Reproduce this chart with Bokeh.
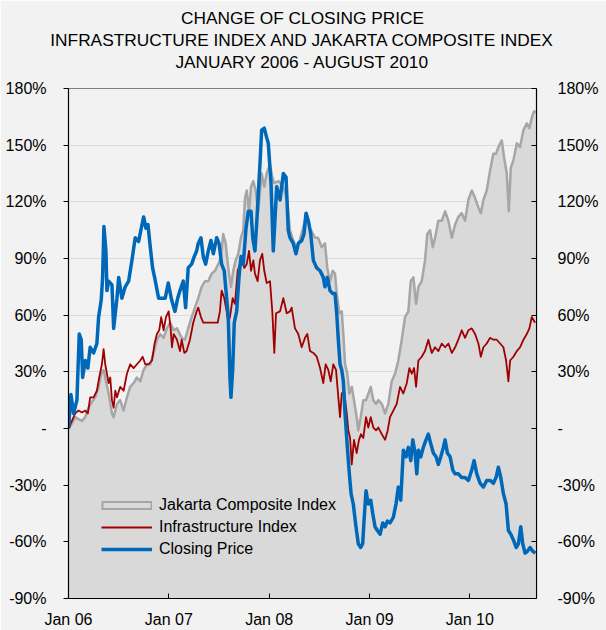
from bokeh.plotting import figure
from bokeh.models import Range1d, LinearAxis, FixedTicker, Legend, LegendItem, Title
from bokeh.embed import file_html
from bokeh.resources import INLINE

# ---------------- data ----------------
title_lines = ["CHANGE OF CLOSING PRICE",
               "INFRASTRUCTURE INDEX AND JAKARTA COMPOSITE INDEX",
               "JANUARY 2006 - AUGUST 2010"]

x_start = 2006.0          # 1 Jan 2006
x_end = 2010.664          # end of Aug 2010
x_ticks = [2006, 2007, 2008, 2009, 2010]
x_tick_labels = ["Jan 06", "Jan 07", "Jan 08", "Jan 09", "Jan 10"]

y_ticks = [-90, -60, -30, 0, 30, 60, 90, 120, 150, 180]
y_tick_labels = ["-90%", "-60%", "-30%", "-", "30%", "60%", "90%", "120%", "150%", "180%"]

series_names = ["Jakarta Composite Index", "Infrastructure Index", "Closing Price"]

# time in years since 1 Jan 2006, values in % change
jci_t = [0.001, 0.034, 0.067, 0.100, 0.134, 0.167, 0.200, 0.233, 0.266, 0.300,
         0.326, 0.350, 0.373, 0.400, 0.433, 0.450, 0.483, 0.515, 0.549, 0.582,
         0.615, 0.649, 0.682, 0.715, 0.749, 0.782, 0.815, 0.848, 0.881, 0.914,
         0.948, 0.981, 1.014, 1.048, 1.081,
         1.128, 1.161, 1.193, 1.227, 1.260, 1.293, 1.327, 1.360, 1.393, 1.427,
         1.460, 1.493, 1.519, 1.542, 1.566, 1.592, 1.619, 1.642, 1.666, 1.692,
         1.719, 1.742, 1.759, 1.776, 1.799, 1.819, 1.842, 1.865, 1.891, 1.925,
         1.951, 1.975, 2.008, 2.031, 2.051, 2.093, 2.139, 2.179, 2.207, 2.240,
         2.274, 2.307, 2.337, 2.374, 2.407, 2.457, 2.487, 2.523, 2.556, 2.579,
         2.606, 2.633, 2.656, 2.673, 2.699, 2.723, 2.739, 2.756, 2.779, 2.799,
         2.823, 2.845, 2.872, 2.888, 2.912, 2.938, 2.965, 2.988,
         3.012, 3.038, 3.065, 3.088, 3.122, 3.155, 3.187, 3.221, 3.254, 3.287,
         3.321, 3.354, 3.387, 3.411, 3.437, 3.464, 3.487, 3.520, 3.553, 3.576,
         3.603, 3.630, 3.653, 3.686, 3.720, 3.753, 3.786, 3.820, 3.853, 3.885,
         3.919, 3.952, 3.985, 4.019, 4.052, 4.085, 4.109, 4.135, 4.168, 4.201,
         4.234, 4.261, 4.284, 4.318, 4.341, 4.368, 4.388, 4.408, 4.434, 4.468,
         4.500, 4.534, 4.567, 4.593, 4.617, 4.640, 4.653]
jci_v = [0, 2.5, 6, 5, 4, 6, 11, 14, 16.5, 22,
         29, 31, 25, 18.5, 8, 6, 13, 15, 9.5, 16.5,
         22, 24, 27, 25, 31, 34, 34, 40, 47, 50,
         48, 53, 56, 52, 53,
         48, 47, 53, 59, 64, 69, 75, 78, 78, 82,
         83.5, 87, 90.5, 103, 98, 85, 75, 83.5, 89, 92.5,
         101, 105, 122, 126, 115, 128, 131, 126, 115, 135,
         128, 135, 140, 133, 130, 131, 128, 121, 105, 99.5,
         95, 100, 106, 114, 106, 101, 101, 96, 98, 85,
         78, 83.5, 82, 71.5, 61, 62, 50, 34, 29, 18.5,
         22, 15, 6, -1, 6, 15, 15, 18.5,
         22, 15, 13, 15, 13, 8, 13, 25, 29, 36,
         47, 59, 62, 78, 80, 66, 75, 78, 89, 103,
         105, 96, 101, 110, 110, 115, 110, 101, 108, 112,
         114, 110, 121, 126, 122, 117, 114, 121, 126, 136.5,
         145.5, 145.5, 149, 152.5, 143.5, 135, 115, 138, 142, 151,
         149, 158, 161.5, 159, 164.5, 168, 167]

infra_t = [0.001, 0.034, 0.067, 0.100, 0.134, 0.167, 0.193, 0.216, 0.250, 0.283,
           0.306, 0.333, 0.350, 0.366, 0.383, 0.400, 0.416, 0.433, 0.450, 0.466,
           0.483, 0.515, 0.549, 0.582, 0.615, 0.649, 0.682, 0.715, 0.739, 0.765,
           0.799, 0.832, 0.858, 0.881, 0.904, 0.924, 0.948, 0.971, 0.998, 1.018,
           1.031, 1.048, 1.081,
           1.111, 1.128, 1.154, 1.177, 1.210, 1.243, 1.277, 1.293, 1.320, 1.343,
           1.393, 1.443, 1.487, 1.509, 1.526, 1.552, 1.576, 1.592, 1.609, 1.636,
           1.659, 1.686, 1.709, 1.732, 1.752, 1.776, 1.799, 1.819, 1.842, 1.858,
           1.885, 1.908, 1.931, 1.951, 1.975, 2.008, 2.031, 2.051, 2.068, 2.108,
           2.141, 2.174, 2.207, 2.224, 2.257, 2.290, 2.324, 2.357, 2.380, 2.407,
           2.440, 2.474, 2.507, 2.539, 2.563, 2.589, 2.613, 2.639, 2.666, 2.689,
           2.706, 2.723, 2.746, 2.773, 2.789, 2.806, 2.823, 2.845, 2.872, 2.895,
           2.915, 2.938, 2.965, 2.988,
           3.012, 3.038, 3.065, 3.088, 3.122, 3.155, 3.181, 3.204, 3.237, 3.271,
           3.304, 3.337, 3.371, 3.397, 3.421, 3.444, 3.464, 3.487, 3.520, 3.553,
           3.586, 3.620, 3.653, 3.686, 3.720, 3.753, 3.786, 3.820, 3.853, 3.885,
           3.919, 3.952, 3.985, 4.019, 4.052, 4.085, 4.109, 4.135, 4.168, 4.201,
           4.234, 4.268, 4.301, 4.334, 4.361, 4.384, 4.401, 4.434, 4.468, 4.500,
           4.534, 4.567, 4.593, 4.617, 4.650]
infra_v = [0, 4, 8, 9.5, 8.5, 9.5, 8, 16.5, 16.5, 20,
           27, 34, 42, 34, 29, 24, 27, 15, 11, 20,
           16.5, 22, 20, 29, 34, 32, 34, 36, 38, 34,
           34, 36, 45, 50, 52, 59, 52, 59, 62, 53,
           43, 50, 47,
           41, 47, 40, 41, 47, 56, 62, 64, 59, 56,
           56, 56, 56, 62, 73, 69, 62, 56, 59, 69,
           66, 83.5, 87, 89, 85, 87, 94, 83.5, 89, 82,
           78, 89, 92.5, 83.5, 77, 78, 62, 40, 61, 62,
           69, 61, 62, 64, 53, 50, 43, 48, 50, 41,
           40, 38, 32, 24, 34, 31, 25, 34, 31, 16.5,
           6, 18.5, 20, 8, -1, -5, -19, -6, -13, -6,
           -3, -5, 6, 0.5,
           6, 0.5, -1, 0.5, -3, -6, -1, 6, 9.5, 13,
           22, 18.5, 24, 32, 29, 32, 22, 36, 38, 41,
           47, 40, 43, 41, 45, 43, 45, 40, 43, 47,
           52, 48, 52, 53, 50, 45, 38, 43, 45, 48,
           47, 47, 45, 43, 36, 25, 36, 38, 41, 43,
           47, 50, 53, 59, 56]

close_t = [0.001, 0.024, 0.051, 0.084, 0.107, 0.127, 0.141, 0.167, 0.193, 0.216,
           0.250, 0.283, 0.300, 0.326, 0.340, 0.353, 0.373, 0.383, 0.400, 0.433,
           0.450, 0.483, 0.500, 0.532, 0.565, 0.599, 0.632, 0.665, 0.699, 0.725,
           0.749, 0.772, 0.792, 0.815, 0.838, 0.858, 0.898, 0.931, 0.964,
           0.994, 1.028, 1.061, 1.088, 1.111, 1.144, 1.167, 1.193, 1.227, 1.253,
           1.277, 1.293, 1.320, 1.343, 1.367, 1.393, 1.420, 1.443, 1.477, 1.500,
           1.526, 1.552, 1.576, 1.592, 1.609, 1.619, 1.636, 1.652, 1.676, 1.699,
           1.719, 1.742, 1.769, 1.792, 1.819, 1.836, 1.858, 1.875, 1.891, 1.908,
           1.925, 1.951, 1.975, 1.991, 2.018, 2.041, 2.075, 2.108, 2.141, 2.168,
           2.190, 2.207, 2.240, 2.267, 2.290, 2.324, 2.347, 2.367, 2.390, 2.414,
           2.440, 2.474, 2.507, 2.539, 2.556, 2.579, 2.606, 2.633, 2.656, 2.673,
           2.689, 2.706, 2.723, 2.739, 2.756, 2.779, 2.799, 2.816, 2.838, 2.865,
           2.888, 2.912, 2.932, 2.945, 2.965, 2.988,
           3.012, 3.032, 3.055, 3.078, 3.105, 3.132, 3.155, 3.178, 3.204, 3.237,
           3.264, 3.287, 3.311, 3.337, 3.364, 3.387, 3.411, 3.431, 3.454, 3.471,
           3.487, 3.511, 3.536, 3.563, 3.586, 3.610, 3.636, 3.663, 3.686, 3.710,
           3.736, 3.753, 3.776, 3.803, 3.830, 3.852, 3.885, 3.919, 3.952, 3.985,
           4.019, 4.042, 4.069, 4.102, 4.135, 4.168, 4.201, 4.234, 4.261, 4.284,
           4.308, 4.334, 4.361, 4.384, 4.408, 4.434, 4.461, 4.484, 4.507, 4.527,
           4.550, 4.573, 4.600, 4.627, 4.653]
close_v = [0, 18, 8, 15, 50, 47, 27, 36, 32, 43,
           40, 45, 59, 68, 80, 107, 94, 73, 78, 76,
           53, 69, 80, 69, 75, 78, 89, 101, 99, 106,
           112, 106, 108, 96, 85, 80, 69, 69, 69,
           77, 68, 62, 69, 73, 78, 64, 85, 87, 91,
           94, 98, 101, 91, 87, 94, 99.5, 92.5, 101, 98,
           87, 83.5, 69, 59, 27, 16.5, 31, 56, 62, 80,
           91, 87, 106, 115, 115, 101, 94, 108, 124, 140,
           158, 159, 154, 151, 130, 94, 128, 121, 135, 133,
           105, 101, 98, 92.5, 98, 99.5, 103, 114, 110, 103,
           89, 85, 83.5, 80, 75, 80, 73, 71.5, 71.5, 61,
           47, 34, 31, 25, 8, -10, -24, -34.5, -40, -52,
           -61, -63, -61, -49, -33, -40,
           -38, -45, -52, -54, -56, -50, -52, -49, -50, -47,
           -40, -31, -38, -11.5, -15, -10, -17, -6, -13, -24,
           -11.5, -15, -10, -6, -3, -8, -13, -15, -19, -15,
           -10, -6, -13, -15, -22, -24, -24, -26, -26, -27.5,
           -22, -17, -24, -29, -31, -27.5, -27.5, -29, -26, -20.5,
           -26, -34.5, -40, -54, -56, -59, -63, -61, -52, -61,
           -66, -65, -63, -65, -66]

# ---------------- styling ----------------
FONT = "Liberation Sans"
BG = "#F2F2F2"
AREA_FILL = "#D9D9D9"
JCI_LINE = "#A6A6A6"
INFRA_COLOR = "#A00000"
CLOSE_COLOR = "#0068B8"

p = figure(width=606, height=630,
           x_range=Range1d(x_start, x_end),
           y_range=Range1d(y_ticks[0], y_ticks[-1]),
           output_backend="svg", toolbar_location=None,
           min_border_left=68, min_border_right=70,
           min_border_top=88, min_border_bottom=32,
           background_fill_color=BG, border_fill_color=BG,
           outline_line_color="#7F7F7F", outline_line_width=1)

# spacer panel between the frame and the title lines
p.add_layout(Title(text=" ", text_font=FONT, text_font_size="13.75px", standoff=0), "above")

# three centred title lines (added bottom-most first)
for line in reversed(title_lines):
    t = Title(text=line, align="center", text_font=FONT, text_font_size="17.3px",
              text_font_style="normal", text_color="#000000", standoff=0,
              text_line_height=0.85)
    p.add_layout(t, "above")

# grid
p.xgrid.visible = False
p.ygrid.ticker = FixedTicker(ticks=y_ticks)
p.ygrid.grid_line_color = "#DCDCDC"
p.ygrid.grid_line_width = 1

y_over = {t: l for t, l in zip(y_ticks, y_tick_labels)}
x_over = {t: l for t, l in zip(x_ticks, x_tick_labels)}

def style_axis(ax):
    ax.axis_line_color = "#000000"
    ax.axis_line_width = 1.2
    ax.major_tick_line_color = "#000000"
    ax.major_tick_line_width = 1
    ax.minor_tick_line_color = None
    ax.major_label_text_font = FONT
    ax.major_label_text_font_size = "16px"
    ax.major_label_text_color = "#000000"

# left axis
ly = p.yaxis[0]
ly.ticker = FixedTicker(ticks=y_ticks)
ly.major_label_overrides = y_over
ly.major_tick_out = 5
ly.major_tick_in = 0
ly.major_label_standoff = 17
style_axis(ly)

# right axis
ry = LinearAxis(ticker=FixedTicker(ticks=y_ticks), major_label_overrides=y_over)
ry.major_tick_out = 0
ry.major_tick_in = 5
ry.major_label_standoff = 21
style_axis(ry)
p.add_layout(ry, "right")

# bottom axis
bx = p.xaxis[0]
bx.ticker = FixedTicker(ticks=x_ticks)
bx.major_label_overrides = x_over
bx.major_tick_out = 0
bx.major_tick_in = 5
bx.major_label_standoff = 12
style_axis(bx)

# data glyphs
jx = [x_start + t for t in jci_t]
ix = [x_start + t for t in infra_t]
cx = [x_start + t for t in close_t]

p.varea(x=jx, y1=[y_ticks[0]] * len(jx), y2=jci_v, fill_color=AREA_FILL)
p.line(jx, jci_v, line_color=JCI_LINE, line_width=2.5, line_join="round")
r_infra = p.line(ix, infra_v, line_color=INFRA_COLOR, line_width=1.8, line_join="round")
r_close = p.line(cx, close_v, line_color=CLOSE_COLOR, line_width=3.5, line_join="round")

# legend swatch for the area series (bordered box); single-point lines draw nothing on the plot
sw_outer = p.line(x=jx[:1], y=jci_v[:1], line_color=JCI_LINE, line_width=9)
sw_inner = p.line(x=jx[:1], y=jci_v[:1], line_color=AREA_FILL, line_width=5,
                  line_dash="47 4", line_dash_offset=49)

legend = Legend(items=[
    LegendItem(label=series_names[0], renderers=[sw_outer, sw_inner]),
    LegendItem(label=series_names[1], renderers=[r_infra]),
    LegendItem(label=series_names[2], renderers=[r_close]),
], location=(33, 40), orientation="vertical",
    glyph_width=51, glyph_height=18, label_height=18, spacing=4,
    padding=0, margin=0, label_standoff=7,
    background_fill_alpha=0, border_line_alpha=0,
    label_text_font=FONT, label_text_font_size="16px", label_text_color="#000000")
p.add_layout(legend)

open("out.html", "w").write(file_html(p, INLINE))
